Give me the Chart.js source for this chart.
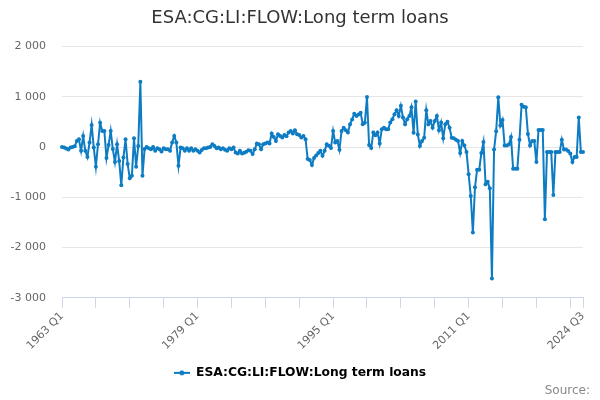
<!DOCTYPE html>
<html lang="en">
<head>
    <meta charset="UTF-8">
    <title>ESA:CG:LI:FLOW:Long term loans</title>
    <script src="https://cdn.jsdelivr.net/npm/chart.js"></script>
    <style>
        body {
            margin: 0;
            padding: 0;
            background: #ffffff;
            font-family: "DejaVu Sans", sans-serif;
        }
        .wrap {
            position: relative;
            width: 600px;
            height: 400px;
        }
        .source {
            position: absolute;
            right: 10px;
            bottom: 3px;
            font-size: 12px;
            color: #888;
        }
    </style>
</head>
<body>
    <div class="wrap">
        <canvas id="loansChart" width="600" height="400"></canvas>
        <div class="source">Source:</div>
    </div>
    <script>
        const seriesName = 'ESA:CG:LI:FLOW:Long term loans';
        const firstYear = 1963;
        const lastYear = 2024;
        const lastQuarter = 3;
        const tickLabels = ['1963 Q1', '1979 Q1', '1995 Q1', '2011 Q1', '2024 Q3'];

        // quarterly flows, 1963 Q1 .. 2024 Q3
        const values = [
            0, -10, -30, -50, -10, 0, 15, 120, 155, -75,
            220, -75, -200, 90, 440, -10, -390, 55, 485, 320,
            320, -220, 40, 320, -40, -300, 55, -280, -760, -210,
            155, -340, -620, -570, 175, -390, 20, 1300, -570, -40,
            0, -25, -45, 0, -75, -25, -45, -90, -25, -45,
            -45, -75, 90, 220, 90, -375, -10, -25, -75, -25,
            -75, -25, -75, -45, -75, -110, -60, -25, -25, -10,
            0, 55, 20, -25, -10, -45, -25, -55, -75, -25,
            -45, -10, -110, -130, -75, -130, -115, -95, -65, -75,
            -140, -45, 70, 55, -45, 55, 70, 90, 70, 270,
            200, 120, 255, 220, 190, 240, 215, 290, 320, 270,
            335, 255, 240, 190, 220, 155, -240, -260, -360, -220,
            -170, -120, -75, -175, -75, 55, 25, -20, 320, 90,
            120, -55, 320, 385, 335, 290, 455, 550, 665, 620,
            650, 685, 455, 485, 995, 40, -20, 290, 235, 290,
            70, 355, 385, 355, 355, 490, 555, 655, 735, 620,
            820, 590, 455, 555, 620, 790, 285, 905, 250, 20,
            120, 185, 735, 455, 520, 385, 520, 620, 335, 490,
            175, 455, 505, 385, 185, 175, 145, 120, -120, 120,
            30, -100, -540, -975, -1700, -800, -450, -450, -120, 100,
            -740, -690, -820, -2620, -50, 315, 990, 430, 540, 30,
            30, 50, 200, -430, -430, -430, 145, 840, 800, 790,
            260, 30, 120, 120, -300, 340, 340, 340, -1440, -100,
            -100, -100, -955, -100, -100, -100, 145, -50, -50, -80,
            -130, -300, -200, -200, 590, -100, -100
        ];

        const categories = [];
        for (let y = firstYear; y <= lastYear; y++) {
            for (let q = 1; q <= 4; q++) {
                if (y === lastYear && q > lastQuarter) break;
                categories.push(y + ' Q' + q);
            }
        }

        const lineColor = '#0d7cc3';

        // legend symbol: short line with a dot
        const symbol = document.createElement('canvas');
        symbol.width = 16;
        symbol.height = 8;
        const sctx = symbol.getContext('2d');
        sctx.strokeStyle = lineColor;
        sctx.lineWidth = 2;
        sctx.beginPath();
        sctx.moveTo(0, 4);
        sctx.lineTo(16, 4);
        sctx.stroke();
        sctx.fillStyle = lineColor;
        sctx.beginPath();
        sctx.arc(8, 4, 2.5, 0, Math.PI * 2);
        sctx.fill();

        function spaced(v) {
            const s = Math.abs(v).toString().replace(/\B(?=(\d{3})+(?!\d))/g, ' ');
            return (v < 0 ? '-' : '') + s;
        }

        const ctx = document.getElementById('loansChart').getContext('2d');
        new Chart(ctx, {
            type: 'line',
            data: {
                labels: categories,
                datasets: [{
                    label: seriesName,
                    data: values,
                    borderColor: lineColor,
                    backgroundColor: lineColor,
                    borderWidth: 2,
                    pointRadius: 2,
                    pointBorderWidth: 0,
                    pointHoverRadius: 3,
                    pointStyle: 'circle',
                    tension: 0
                }]
            },
            options: {
                responsive: false,
                animation: false,
                layout: {
                    padding: { left: 0, right: 0, top: 0, bottom: 11 }
                },
                plugins: {
                    title: {
                        display: true,
                        text: seriesName,
                        color: '#333333',
                        font: { family: 'DejaVu Sans', size: 18, weight: 'normal' },
                        padding: { top: 8, bottom: 17 }
                    },
                    legend: {
                        position: 'bottom',
                        labels: {
                            usePointStyle: true,
                            pointStyle: symbol,
                            pointStyleWidth: 16,
                            color: '#333333',
                            font: { family: 'DejaVu Sans', size: 12.3, weight: 'bold' },
                            padding: 10,
                            generateLabels: (chart) => [{
                                text: seriesName,
                                pointStyle: symbol,
                                fillStyle: lineColor,
                                strokeStyle: lineColor,
                                lineWidth: 0,
                                datasetIndex: 0
                            }]
                        }
                    },
                    tooltip: { enabled: false }
                },
                scales: {
                    x: {
                        afterFit: (scale) => { scale.height = 59; },
                        grid: {
                            drawOnChartArea: false,
                            drawTicks: true,
                            tickLength: 10,
                            color: (c) => (c.index % 16 === 0 || c.index === categories.length - 1) ? '#ccd6eb' : 'rgba(0,0,0,0)'
                        },
                        border: { display: true, color: '#ccd6eb', width: 1 },
                        ticks: {
                            autoSkip: false,
                            minRotation: 45,
                            maxRotation: 45,
                            padding: 2,
                            color: '#666666',
                            font: { family: 'DejaVu Sans', size: 11 },
                            callback: (val, idx) => tickLabels.includes(categories[idx]) ? categories[idx] : ''
                        }
                    },
                    y: {
                        min: -3000,
                        max: 2000,
                        afterFit: (scale) => { scale.width = 62; },
                        grid: {
                            color: '#e6e6e6',
                            drawTicks: false
                        },
                        border: { display: false },
                        ticks: {
                            stepSize: 1000,
                            padding: 16,
                            color: '#666666',
                            font: { family: 'DejaVu Sans', size: 11 },
                            callback: (v) => spaced(v)
                        }
                    },
                    // empty right-hand gutter so the plot ends where the reference does
                    gutter: {
                        position: 'right',
                        afterFit: (scale) => { scale.width = 17; },
                        grid: { display: false },
                        border: { display: false },
                        ticks: { display: false }
                    }
                }
            }
        });
    </script>
</body>
</html>
